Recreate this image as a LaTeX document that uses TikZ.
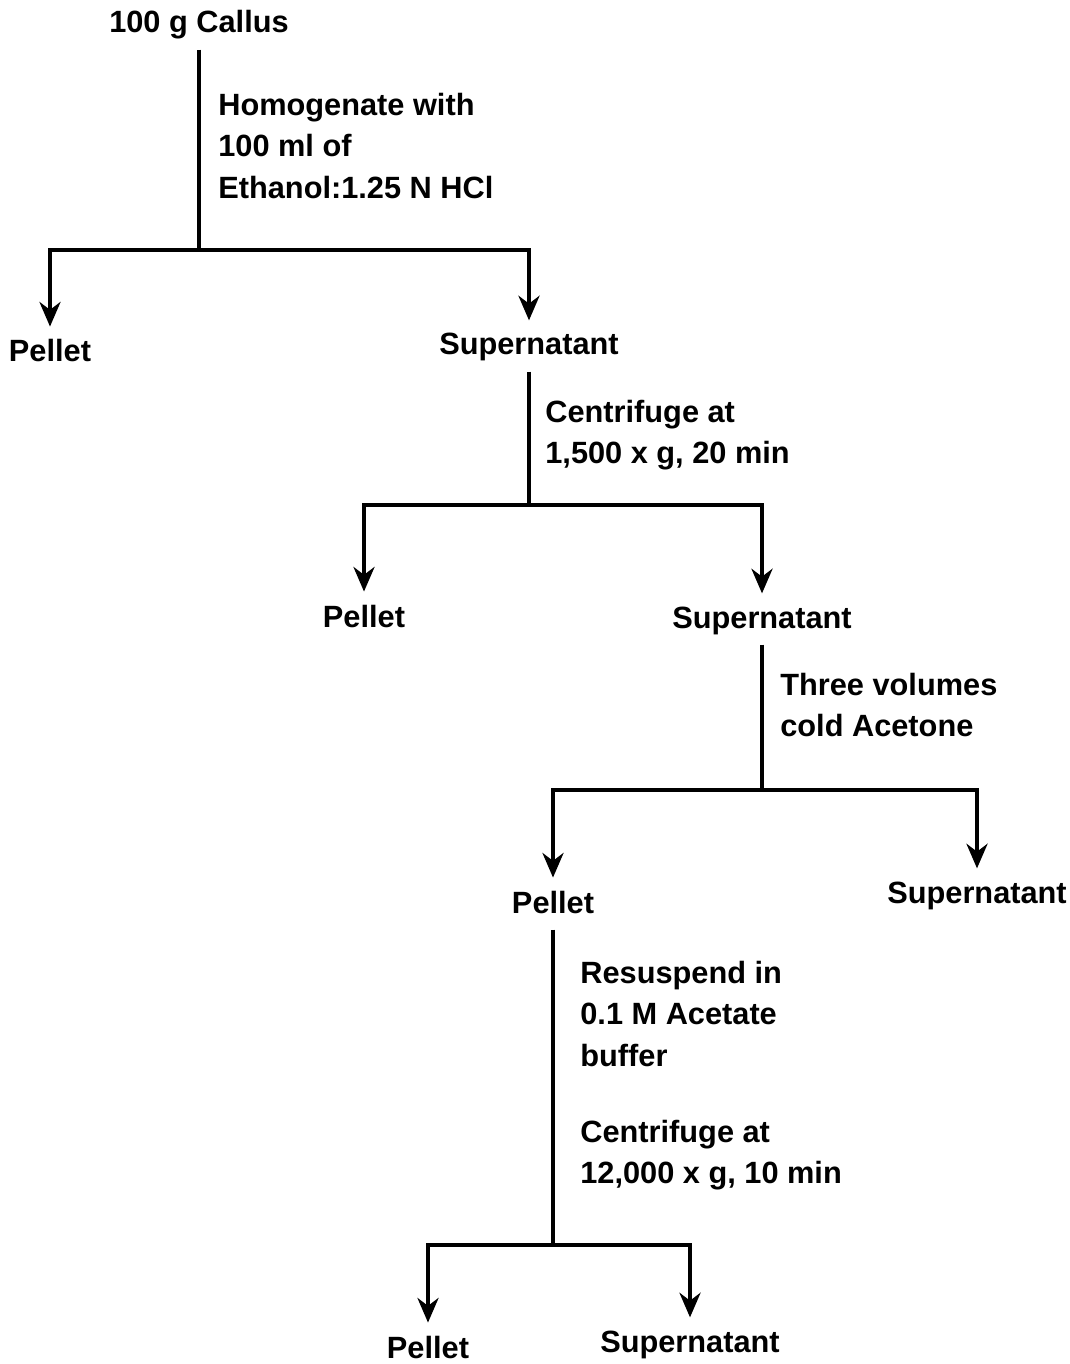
\documentclass[tikz,border=0pt]{standalone}
\usepackage{fontspec}
\setmainfont{Liberation Sans}
\usetikzlibrary{arrows.meta}

\begin{document}
\begin{tikzpicture}[x=0.02cm, y=-0.02cm,
    fraction/.style={anchor=base, inner sep=0pt, outer ysep=7.5pt, text depth=0.2em,
      font=\fontsize{17.5}{23.5}\selectfont\bfseries},
    treatment/.style={anchor=north west, inner sep=0pt, align=left,
      font=\fontsize{17.5}{23.5}\selectfont\bfseries},
    stem/.style={line width=2pt},
    flow/.style={line width=2pt, -{Stealth[length=14pt, width=12pt, inset=4.5pt]}}]
  \useasboundingbox (0,0) rectangle (1070,1364);

  \node[fraction] (callus) at (199,33) {100 g Callus};
  \coordinate (j1) at (199,250);
  \node[treatment] (homog) at (218,93) {Homogenate with\\100 ml of\\Ethanol:1.25 N HCl};
  \node[fraction] (pel1) at (50,362) {Pellet};
  \node[fraction] (sup1) at (529,355) {Supernatant};

  \coordinate (j2) at (529,505);
  \node[treatment] (spin1) at (545,400) {Centrifuge at\\1,500 x g, 20 min};
  \node[fraction] (pel2) at (364,627) {Pellet};
  \node[fraction] (sup2) at (762,628) {Supernatant};

  \coordinate (j3) at (762,790);
  \node[treatment] (acetone) at (780,673) {Three volumes\\cold Acetone};
  \node[fraction] (pel3) at (553,913) {Pellet};
  \node[fraction] (sup3) at (977,903) {Supernatant};

  \coordinate (j4) at (553,1245);
  \node[treatment] (resusp) at (580,961) {Resuspend in\\0.1 M Acetate\\buffer\\[20pt]Centrifuge at\\12,000 x g, 10 min};
  \node[fraction] (pel4) at (428,1358) {Pellet};
  \node[fraction] (sup4) at (690,1352) {Supernatant};

  \draw[stem] (callus) -- (j1);
  \draw[flow] (j1) -| (pel1);
  \draw[flow] (j1) -| (sup1);
  \draw[stem] (sup1) -- (j2);
  \draw[flow] (j2) -| (pel2);
  \draw[flow] (j2) -| (sup2);
  \draw[stem] (sup2) -- (j3);
  \draw[flow] (j3) -| (pel3);
  \draw[flow] (j3) -| (sup3);
  \draw[stem] (pel3) -- (j4);
  \draw[flow] (j4) -| (pel4);
  \draw[flow] (j4) -| (sup4);
\end{tikzpicture}
\end{document}
